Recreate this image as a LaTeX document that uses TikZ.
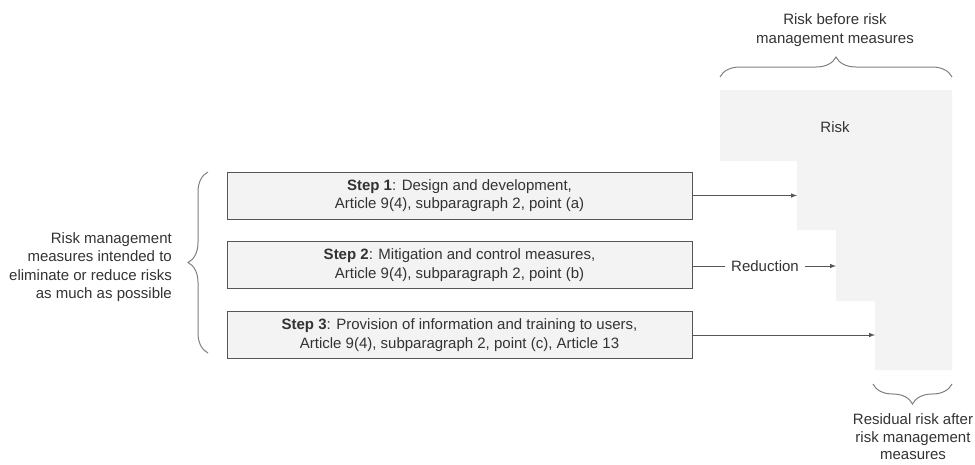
\documentclass[tikz,border=0pt]{standalone}
\usepackage{fontspec}
\setmainfont{Liberation Sans}
\usetikzlibrary{arrows,positioning,decorations.pathreplacing}
\definecolor{riskfill}{HTML}{F3F3F3}
\definecolor{linegray}{HTML}{555555}
\definecolor{textgray}{HTML}{333333}
\tikzset{
    basic/.style   = {font=\fontsize{15}{18.5}\selectfont, text=textgray},
    stepbox/.style = {basic, rectangle, draw=linegray, line width=1pt, fill=riskfill,
                      minimum width=465pt, minimum height=47pt, inner sep=0pt, align=center},
    note/.style    = {basic, inner sep=0pt},
    bracket/.style = {draw=gray, line width=1pt, decorate, decoration={brace, amplitude=20pt}},
    pointer/.style = {->, draw=linegray, line width=1pt}
}

\begin{document}
\begin{tikzpicture}[x=1pt, y=-1pt, >=latex]
    \useasboundingbox (0,0) rectangle (975,464);
    % risk staircase
    \coordinate (c1) at (797,161);
    \coordinate (c2) at (836,230);
    \coordinate (c3) at (875,301);
    \fill[riskfill] (720,90) -- (952,90) -- (952,370) -- (c3 |- 0,370) -- (c3) -- (c2 |- c3)
        -- (c2) -- (c1 |- c2) -- (c1) -- (720,161) -- cycle;
    \node[note] (risk) at (835,127) {Risk};

    % steps
    \node[stepbox] (s1) at (459.5,195.5) {\textbf{Step 1}: Design and development,\\Article 9(4), subparagraph 2, point (a)};
    \node[stepbox] (s2) at (459.5,265) {\textbf{Step 2}: Mitigation and control measures,\\Article 9(4), subparagraph 2, point (b)};
    \node[stepbox] (s3) at (459.5,335) {\textbf{Step 3}: Provision of information and training to users,\\Article 9(4), subparagraph 2, point (c), Article 13};

    \draw[pointer] (s1.east) -- (s1.east -| c1);
    \node[note] (red) at (765,266) {Reduction};
    \draw[draw=linegray, line width=1pt] (s2.east |- red) -- ([xshift=-6pt]red.west);
    \draw[pointer] ([xshift=6pt]red.east) -- (red -| c2);
    \draw[pointer] (s3.east) -- (s3.east -| c3);

    % braces and notes
    \draw[bracket] (720,77) -- (952,77);
    \node[note, align=center] (before) at (835,30) {Risk before risk\\management measures};
    \draw[bracket] (208,353) -- (208,172);
    \node[note, align=right, anchor=east] (measures) at (172,267) {Risk management\\measures intended to\\eliminate or reduce risks\\as much as possible};
    \draw[bracket] (952,384) -- (873,384);
    \node[note, align=center, font=\fontsize{15}{17.5}\selectfont] (after) at (913,437) {Residual risk after\\risk management\\measures};
\end{tikzpicture}
\end{document}
